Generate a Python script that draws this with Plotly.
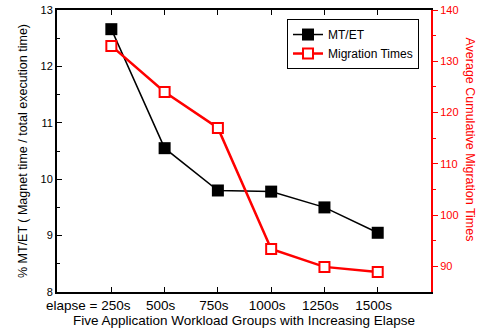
import plotly.graph_objects as go

categories = ["elapse = 250s", "500s", "750s", "1000s", "1250s", "1500s"]
x_pos = [0, 1, 2, 3, 4, 5]
mt_et = [12.66, 10.55, 9.8, 9.78, 9.5, 9.05]
migration = [133.0, 124.0, 117.0, 93.4, 89.9, 88.9]

FONT = "Liberation Sans, Arial, sans-serif"
RED = "#ff0000"

fig = go.Figure()
fig.add_trace(go.Scatter(
    x=x_pos, y=mt_et, name="MT/ET", mode="lines+markers",
    line=dict(color="black", width=1.5),
    marker=dict(symbol="square", size=12, color="black"),
))
fig.add_trace(go.Scatter(
    x=x_pos, y=migration, name="Migration Times", mode="lines+markers", yaxis="y2",
    line=dict(color=RED, width=2.5),
    marker=dict(symbol="square", size=10, color="white", line=dict(color=RED, width=2)),
))

# first category label is drawn as an annotation (it sits off-centre from its tick)
tick_text = [""] + categories[1:]

fig.update_layout(
    width=485, height=332,
    margin=dict(l=57, r=54, t=10, b=40),
    paper_bgcolor="white", plot_bgcolor="white",
    font=dict(family=FONT, size=12, color="black"),
    showlegend=True,
    legend=dict(x=0.615, y=0.968, xanchor="left", yanchor="top",
                bordercolor="black", borderwidth=1, bgcolor="white",
                font=dict(size=12), tracegroupgap=0, itemwidth=30),
    xaxis=dict(range=[-1.02, 6.0], tickvals=x_pos, ticktext=tick_text,
               showline=True, linecolor="black", linewidth=2, mirror="ticks",
               ticks="inside", ticklen=5, tickcolor="black", showgrid=False,
               zeroline=False, tickfont=dict(size=13.5), ticklabelshift=-4,
               tickangle=0, automargin=False,
               title=dict(text="Five Application Workload Groups with Increasing Elapse",
                          font=dict(size=13.5), standoff=0)),
    yaxis=dict(range=[8, 13], dtick=1, showline=True, linecolor="black", linewidth=2,
               ticks="inside", ticklen=5, tickcolor="black", showgrid=False, zeroline=False,
               minor=dict(ticks="inside", dtick=0.5, ticklen=3, tickcolor="black"),
               tickfont=dict(size=11), automargin=False,
               title=dict(text="% MT/ET ( Magnet time / total execution time)",
                          font=dict(size=12.5), standoff=10)),
    yaxis2=dict(range=[85, 140], tickvals=[90, 100, 110, 120, 130, 140],
                overlaying="y", side="right", showline=True, linecolor=RED, linewidth=2,
                ticks="outside", ticklen=5, tickcolor=RED, showgrid=False, zeroline=False,
                minor=dict(ticks="outside", tickvals=[95, 105, 115, 125, 135], ticklen=3, tickcolor=RED),
                tickfont=dict(size=11, color=RED), automargin=False),
    annotations=[
        dict(text="Average Cumulative Migration Times", textangle=90,
             xref="paper", yref="paper", x=1.105, y=0.54,
             xanchor="center", yanchor="middle", showarrow=False,
             font=dict(size=12.5, color=RED)),
        dict(text=categories[0], xref="paper", yref="paper", x=0.2005, y=-0.019,
             xanchor="right", yanchor="top", showarrow=False, borderpad=0,
             font=dict(size=13.5, color="black")),
    ],
)

fig.write_html("out.html")
